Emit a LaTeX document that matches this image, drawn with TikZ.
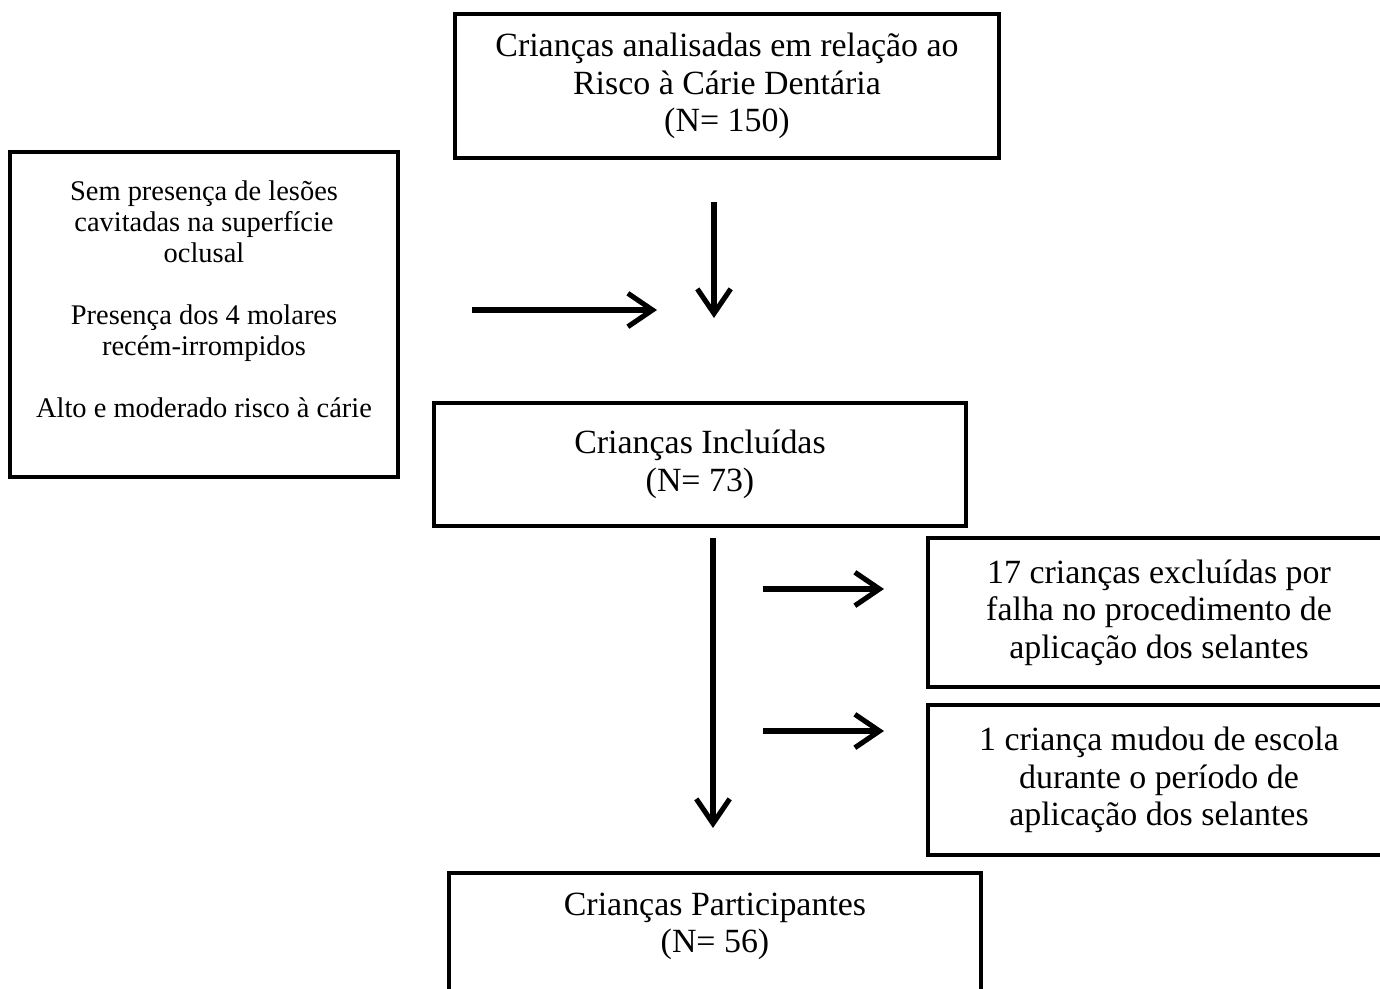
\documentclass[tikz,border=0pt]{standalone}
\usepackage{fontspec}
\setmainfont{Liberation Serif}
\usetikzlibrary{arrows.meta}

\begin{document}
\begin{tikzpicture}[x=0.02cm, y=-0.02cm,
    caixa/.style={draw, line width=2.7pt, align=center, inner sep=0pt,
                  font=\fontsize{19.3}{21.4}\selectfont},
    seta/.style={line width=2.9pt, -{Straight Barb[length=14pt, width=19pt]}}]
    \useasboundingbox (0,0) rectangle (1380,988);
    \clip (0,0) rectangle (1380,988);
    % caixas
    \node[caixa, minimum width=10.88cm, minimum height=2.88cm] (analisadas) at (727,86)
        {Crianças analisadas em relação ao\\Risco à Cárie Dentária\\(N= 150)};
    \node[caixa, minimum width=7.76cm, minimum height=6.5cm,
          font=\fontsize{16.2}{17.6}\selectfont] (criterios) at (204,314.5)
        {Sem presença de lesões\\cavitadas na superfície\\oclusal\\[17.6pt]
         Presença dos 4 molares\\recém-irrompidos\\[17.6pt]
         Alto e moderado risco à cárie\\ ~};
    \node[caixa, minimum width=10.64cm, minimum height=2.46cm] (incluidas) at (700,464.5)
        {Crianças Incluídas\\(N= 73)};
    \node[caixa, minimum width=9.24cm, minimum height=2.98cm] (excluidas) at (1159,612.5)
        {17 crianças excluídas por\\falha no procedimento de\\aplicação dos selantes};
    \node[caixa, minimum width=9.24cm, minimum height=3cm] (mudou) at (1159,780)
        {1 criança mudou de escola\\durante o período de\\aplicação dos selantes};
    \node[caixa, minimum width=10.64cm, minimum height=2.74cm] (participantes) at (715,941.5)
        {Crianças Participantes\\(N= 56)\\ ~};
    % setas
    \coordinate (a1) at (714,202);
    \coordinate (a2) at (714,318);
    \coordinate (h1) at (472,310);
    \coordinate (h2) at (657,310);
    \coordinate (b1) at (713,538);
    \coordinate (b2) at (713,828);
    \coordinate (e1) at (763,589);
    \coordinate (e2) at (884,589);
    \coordinate (m1) at (763,731);
    \coordinate (m2) at (884,731);
    \draw[seta] (a1) -- (a2);
    \draw[seta] (h1) -- (h2);
    \draw[seta] (b1) -- (b2);
    \draw[seta] (e1) -- (e2);
    \draw[seta] (m1) -- (m2);
\end{tikzpicture}
\end{document}
